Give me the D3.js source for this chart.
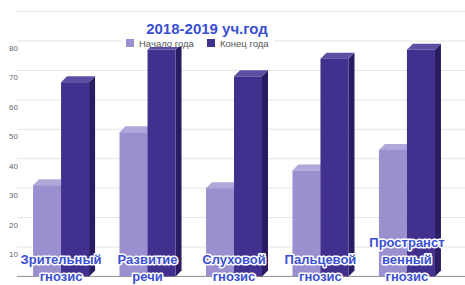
<!DOCTYPE html>
<html>
  <head>
    <title>2018-2019 уч.год</title>
    <script src="https://d3js.org/d3.v7.min.js"></script>
    <style type="text/css">
      body { margin: 0; background: #fff; }
      text { font-family: Arial, "Liberation Sans", sans-serif; }
    </style>
  </head>
  <body>
    <div id="chart"></div>
    <script>
      // data
      var categories = [["Зрительный", "гнозис"], ["Развитие", "речи"], ["Слуховой", "гнозис"], ["Пальцевой", "гнозис"], ["Пространст", "венный", "гнозис"]];
      var startYear = [31, 49, 30, 36, 43];
      var endYear = [66, 77, 68, 74, 77];
      var seriesNames = ["Начало года", "Конец года"];
      var tickValues = [10, 20, 30, 40, 50, 60, 70, 80];

      var width = 465, height = 285;
      var depth = 6; // 3d offset of the bars

      var svg = d3.select("#chart")
        .append("svg")
          .attr("width", width)
          .attr("height", height);

      var y = d3.scaleLinear().domain([0, 90]).range([276.4, 11.6]);
      var x0 = d3.scaleBand()
        .domain(d3.range(categories.length))
        .range([18, 450])
        .paddingInner(0.352)
        .paddingOuter(0.174);
      var x1 = d3.scaleBand().domain([0, 1]).range([0, x0.bandwidth()]);

      // grid
      svg.selectAll("line.grid")
        .data(d3.range(10, 100, 10))
        .enter().append("line")
          .attr("class", "grid")
          .attr("x1", 17).attr("x2", width)
          .attr("y1", function(d) { return y(d); })
          .attr("y2", function(d) { return y(d); })
          .attr("stroke", "#e4e4e4")
          .attr("stroke-width", 1);

      svg.append("line")
        .attr("x1", 17).attr("x2", width)
        .attr("y1", y(0)).attr("y2", y(0))
        .attr("stroke", "#8c8c8c")
        .attr("stroke-width", 1);

      svg.selectAll("text.tick")
        .data(tickValues)
        .enter().append("text")
          .attr("class", "tick")
          .attr("x", 9)
          .attr("y", function(d) { return y(d) + 10; })
          .attr("font-size", 8)
          .attr("fill", "#666")
          .text(function(d) { return d; });

      // 3d bars
      var colors = [
        { front: "#9b8fcf", top: "#b1a7db", side: "#7d70b5" },
        { front: "#42308e", top: "#5d4ea3", side: "#291c62" }
      ];

      function drawBar(g, xl, w, v, c) {
        var yt = y(v), yb = y(0);
        g.append("path")
          .attr("d", "M" + (xl + w) + "," + yb + "L" + (xl + w) + "," + yt + "L" + (xl + w + depth) + "," + (yt - depth) + "L" + (xl + w + depth) + "," + (yb - depth) + "Z")
          .attr("fill", c.side);
        g.append("path")
          .attr("d", "M" + xl + "," + yt + "L" + (xl + depth) + "," + (yt - depth) + "L" + (xl + w + depth) + "," + (yt - depth) + "L" + (xl + w) + "," + yt + "Z")
          .attr("fill", c.top);
        g.append("rect")
          .attr("x", xl).attr("y", yt)
          .attr("width", w).attr("height", yb - yt)
          .attr("fill", c.front);
      }

      var groups = svg.selectAll("g.group")
        .data(categories)
        .enter().append("g")
          .attr("class", "group");

      groups.each(function(d, i) {
        var g = d3.select(this);
        drawBar(g, x0(i) + x1(0), x1.bandwidth(), startYear[i], colors[0]);
        drawBar(g, x0(i) + x1(1), x1.bandwidth(), endYear[i], colors[1]);
      });

      // category labels over the bars
      groups.each(function(d, i) {
        var cx = x0(i) + x0.bandwidth() / 2;
        var t = d3.select(this).append("text")
          .attr("text-anchor", "middle")
          .attr("font-size", 13)
          .attr("font-weight", "bold")
          .attr("fill", "#3a4fd2")
          .attr("stroke", "#fff")
          .attr("stroke-width", 3)
          .attr("stroke-linejoin", "round")
          .attr("paint-order", "stroke");
        d.forEach(function(line, k) {
          t.append("tspan")
            .attr("x", cx)
            .attr("y", 281 - (d.length - 1 - k) * 17)
            .text(line);
        });
      });

      // title
      svg.append("text")
        .attr("x", 207)
        .attr("y", 34)
        .attr("text-anchor", "middle")
        .attr("font-size", 15)
        .attr("font-weight", "bold")
        .attr("fill", "#3a4fd2")
        .text("2018-2019 уч.год");

      // legend, on a white strip
      svg.append("rect")
        .attr("x", 122).attr("y", 37)
        .attr("width", 152).attr("height", 10)
        .attr("fill", "#fff");

      var legendX = [126, 207];
      var legend = svg.selectAll("g.legend")
        .data(seriesNames)
        .enter().append("g")
          .attr("class", "legend")
          .attr("transform", function(d, i) { return "translate(" + legendX[i] + ",39)"; });
      legend.append("rect")
        .attr("width", 8).attr("height", 8)
        .attr("fill", function(d, i) { return colors[i].front; });
      legend.append("text")
        .attr("x", 13).attr("y", 7.5)
        .attr("font-size", 9.5)
        .attr("fill", "#555")
        .text(function(d) { return d; });
    </script>
  </body>
</html>
